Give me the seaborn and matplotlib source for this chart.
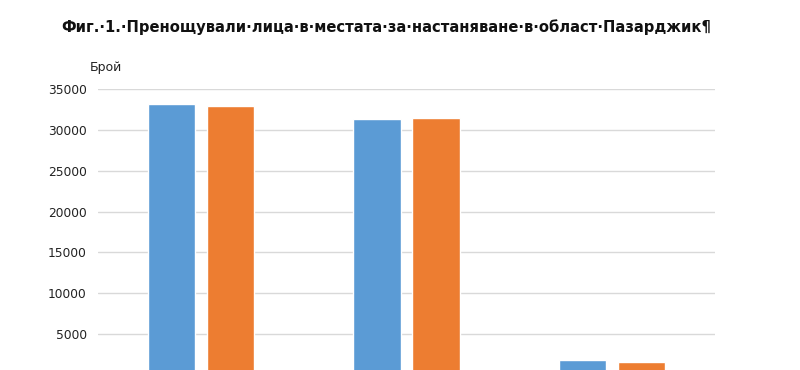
import matplotlib
matplotlib.use("Agg")
import matplotlib.pyplot as plt
import seaborn as sns
import pandas as pd

categories = ["Общо", "Българи", "Чужденци"]
series_names = ["Предходен период", "Текущ период"]
values_prev = [33150, 31350, 1815]
values_curr = [32980, 31510, 1570]
colors = ["#5B9BD5", "#ED7D31"]
yticks = [5000, 10000, 15000, 20000, 25000, 30000, 35000]
title = "Фиг.·1.·Пренощували·лица·в·местата·за·настаняване·в·област·Пазарджик¶"
ylabel = "Брой"

df = pd.DataFrame({
    "cat": categories * 2,
    "series": [series_names[0]] * 3 + [series_names[1]] * 3,
    "value": values_prev + values_curr,
})

sns.set_theme(style="white")
plt.rcParams["font.family"] = ["DejaVu Sans"]

fig = plt.figure(figsize=(8, 3.7), dpi=100)
ax = fig.add_axes([98 / 800, -5 / 370, 617 / 800, 286 / 370])

sns.barplot(data=df, x="cat", y="value", hue="series", palette=colors,
            width=0.574, gap=0.2, ax=ax, legend=False, saturation=1)

ax.set_ylim(0, 35000)
ax.set_xlim(-0.5, 2.5)
ax.set_yticks(yticks)
ax.set_yticklabels([str(v) for v in yticks], fontsize=8.8, color="#222222")
ax.tick_params(axis="y", length=0, pad=8)
ax.tick_params(axis="x", length=0)
ax.set_xticklabels([])
ax.set_xlabel("")
ax.set_ylabel("")
ax.yaxis.grid(True, color="#D9D9D9", linewidth=1)
ax.set_axisbelow(True)
for s in ax.spines.values():
    s.set_visible(False)

fig.text(90 / 800, 1 - 68 / 370, ylabel, fontsize=9, color="#222222",
         ha="left", va="center")
fig.text(386 / 800, 1 - 27 / 370, title, fontsize=11.8, fontweight="bold",
         color="#111111", ha="center", va="center", fontstretch="condensed")

fig.savefig("out.png", dpi=100)
